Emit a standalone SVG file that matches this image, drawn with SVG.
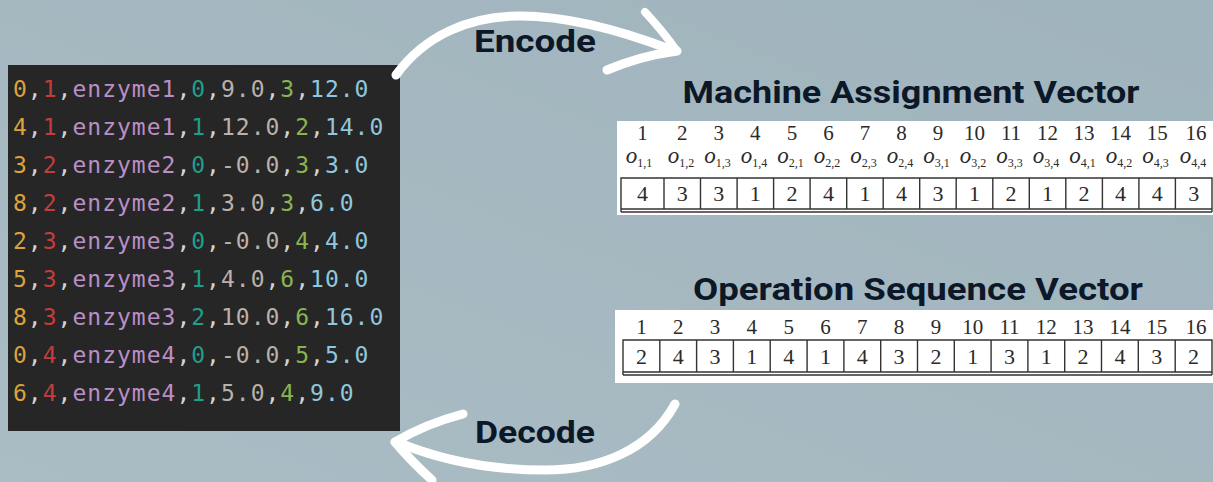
<svg xmlns="http://www.w3.org/2000/svg" width="1213" height="482" viewBox="0 0 1213 482">
  <defs>
    <linearGradient id="bg" x1="1" y1="0" x2="0" y2="1">
      <stop offset="0" stop-color="#a0b4bd"/>
      <stop offset="1" stop-color="#aabcc4"/>
    </linearGradient>
    <style>
      .code { font-family: "DejaVu Sans Mono", "Liberation Mono", monospace; font-size: 23px; letter-spacing: 1px; }
      .a { fill: #dca23c; }
      .b { fill: #c43c3c; }
      .c { fill: #b98fc6; }
      .p { fill: #d2d2d2; }
      .d { fill: #1f9e8a; }
      .e { fill: #bab1aa; }
      .f { fill: #8bb352; }
      .g { fill: #8fc7de; }
      .title { font-family: Roboto, "Liberation Sans", sans-serif; font-weight: 700; font-size: 32px; fill: #0c1828; }
      .hdr { font-family: "Liberation Serif", serif; font-size: 21px; fill: #2a2a2a; text-anchor: middle; }
      .val { font-family: "Liberation Serif", serif; font-size: 22px; fill: #2a2a2a; text-anchor: middle; }
      .op { font-family: "Liberation Serif", serif; font-size: 23px; fill: #2a2a2a; text-anchor: middle; }
      .op .i { font-style: italic; }
      .op .s { font-size: 12px; }
      .grid { fill: none; stroke: #333333; stroke-width: 1.4; }
      .arrow { fill: none; stroke: #ffffff; stroke-linecap: round; stroke-linejoin: round; }
    </style>
  </defs>

  <rect width="1213" height="482" fill="url(#bg)"/>

  <!-- source data listing -->
  <g id="code-panel">
    <rect x="8" y="65" width="392" height="366" fill="#262626"/>
    <text class="code" x="13" y="97"><tspan class="a">0</tspan><tspan class="p">,</tspan><tspan class="b">1</tspan><tspan class="p">,</tspan><tspan class="c">enzyme1</tspan><tspan class="p">,</tspan><tspan class="d">0</tspan><tspan class="p">,</tspan><tspan class="e">9.0</tspan><tspan class="p">,</tspan><tspan class="f">3</tspan><tspan class="p">,</tspan><tspan class="g">12.0</tspan></text>
    <text class="code" x="13" y="135"><tspan class="a">4</tspan><tspan class="p">,</tspan><tspan class="b">1</tspan><tspan class="p">,</tspan><tspan class="c">enzyme1</tspan><tspan class="p">,</tspan><tspan class="d">1</tspan><tspan class="p">,</tspan><tspan class="e">12.0</tspan><tspan class="p">,</tspan><tspan class="f">2</tspan><tspan class="p">,</tspan><tspan class="g">14.0</tspan></text>
    <text class="code" x="13" y="173"><tspan class="a">3</tspan><tspan class="p">,</tspan><tspan class="b">2</tspan><tspan class="p">,</tspan><tspan class="c">enzyme2</tspan><tspan class="p">,</tspan><tspan class="d">0</tspan><tspan class="p">,</tspan><tspan class="e">-0.0</tspan><tspan class="p">,</tspan><tspan class="f">3</tspan><tspan class="p">,</tspan><tspan class="g">3.0</tspan></text>
    <text class="code" x="13" y="211"><tspan class="a">8</tspan><tspan class="p">,</tspan><tspan class="b">2</tspan><tspan class="p">,</tspan><tspan class="c">enzyme2</tspan><tspan class="p">,</tspan><tspan class="d">1</tspan><tspan class="p">,</tspan><tspan class="e">3.0</tspan><tspan class="p">,</tspan><tspan class="f">3</tspan><tspan class="p">,</tspan><tspan class="g">6.0</tspan></text>
    <text class="code" x="13" y="249"><tspan class="a">2</tspan><tspan class="p">,</tspan><tspan class="b">3</tspan><tspan class="p">,</tspan><tspan class="c">enzyme3</tspan><tspan class="p">,</tspan><tspan class="d">0</tspan><tspan class="p">,</tspan><tspan class="e">-0.0</tspan><tspan class="p">,</tspan><tspan class="f">4</tspan><tspan class="p">,</tspan><tspan class="g">4.0</tspan></text>
    <text class="code" x="13" y="287"><tspan class="a">5</tspan><tspan class="p">,</tspan><tspan class="b">3</tspan><tspan class="p">,</tspan><tspan class="c">enzyme3</tspan><tspan class="p">,</tspan><tspan class="d">1</tspan><tspan class="p">,</tspan><tspan class="e">4.0</tspan><tspan class="p">,</tspan><tspan class="f">6</tspan><tspan class="p">,</tspan><tspan class="g">10.0</tspan></text>
    <text class="code" x="13" y="325"><tspan class="a">8</tspan><tspan class="p">,</tspan><tspan class="b">3</tspan><tspan class="p">,</tspan><tspan class="c">enzyme3</tspan><tspan class="p">,</tspan><tspan class="d">2</tspan><tspan class="p">,</tspan><tspan class="e">10.0</tspan><tspan class="p">,</tspan><tspan class="f">6</tspan><tspan class="p">,</tspan><tspan class="g">16.0</tspan></text>
    <text class="code" x="13" y="363"><tspan class="a">0</tspan><tspan class="p">,</tspan><tspan class="b">4</tspan><tspan class="p">,</tspan><tspan class="c">enzyme4</tspan><tspan class="p">,</tspan><tspan class="d">0</tspan><tspan class="p">,</tspan><tspan class="e">-0.0</tspan><tspan class="p">,</tspan><tspan class="f">5</tspan><tspan class="p">,</tspan><tspan class="g">5.0</tspan></text>
    <text class="code" x="13" y="401"><tspan class="a">6</tspan><tspan class="p">,</tspan><tspan class="b">4</tspan><tspan class="p">,</tspan><tspan class="c">enzyme4</tspan><tspan class="p">,</tspan><tspan class="d">1</tspan><tspan class="p">,</tspan><tspan class="e">5.0</tspan><tspan class="p">,</tspan><tspan class="f">4</tspan><tspan class="p">,</tspan><tspan class="g">9.0</tspan></text>
  </g>

  <!-- machine assignment vector -->
  <g id="machine-assignment">
    <text class="title" x="911" y="103" text-anchor="middle" textLength="457" lengthAdjust="spacingAndGlyphs">Machine Assignment Vector</text>
    <rect x="617" y="121" width="596" height="94" fill="#ffffff"/>
    <g class="hdr">
      <text x="642.5" y="140">1</text><text x="682.3" y="140">2</text><text x="718.8" y="140">3</text><text x="755.3" y="140">4</text>
      <text x="791.9" y="140">5</text><text x="828.4" y="140">6</text><text x="864.9" y="140">7</text><text x="901.4" y="140">8</text>
      <text x="938" y="140">9</text><text x="974.5" y="140">10</text><text x="1011" y="140">11</text><text x="1047.6" y="140">12</text>
      <text x="1084.1" y="140">13</text><text x="1120.6" y="140">14</text><text x="1157.2" y="140">15</text><text x="1196" y="140">16</text>
    </g>
    <g class="op">
      <text x="639" y="163"><tspan class="i">o</tspan><tspan class="s" dy="4">1,1</tspan></text>
      <text x="681" y="163"><tspan class="i">o</tspan><tspan class="s" dy="4">1,2</tspan></text>
      <text x="717.5" y="163"><tspan class="i">o</tspan><tspan class="s" dy="4">1,3</tspan></text>
      <text x="754" y="163"><tspan class="i">o</tspan><tspan class="s" dy="4">1,4</tspan></text>
      <text x="790.5" y="163"><tspan class="i">o</tspan><tspan class="s" dy="4">2,1</tspan></text>
      <text x="827" y="163"><tspan class="i">o</tspan><tspan class="s" dy="4">2,2</tspan></text>
      <text x="863.5" y="163"><tspan class="i">o</tspan><tspan class="s" dy="4">2,3</tspan></text>
      <text x="900" y="163"><tspan class="i">o</tspan><tspan class="s" dy="4">2,4</tspan></text>
      <text x="936.5" y="163"><tspan class="i">o</tspan><tspan class="s" dy="4">3,1</tspan></text>
      <text x="973" y="163"><tspan class="i">o</tspan><tspan class="s" dy="4">3,2</tspan></text>
      <text x="1009.5" y="163"><tspan class="i">o</tspan><tspan class="s" dy="4">3,3</tspan></text>
      <text x="1046" y="163"><tspan class="i">o</tspan><tspan class="s" dy="4">3,4</tspan></text>
      <text x="1082.5" y="163"><tspan class="i">o</tspan><tspan class="s" dy="4">4,1</tspan></text>
      <text x="1119" y="163"><tspan class="i">o</tspan><tspan class="s" dy="4">4,2</tspan></text>
      <text x="1155.5" y="163"><tspan class="i">o</tspan><tspan class="s" dy="4">4,3</tspan></text>
      <text x="1193" y="163"><tspan class="i">o</tspan><tspan class="s" dy="4">4,4</tspan></text>
    </g>
    <path class="grid" d="M621 178H1212V209H621Z M621 212H1212 M621 178V212 M1212 178V212 M664 178V209 M700.5 178V209 M737.1 178V209 M773.6 178V209 M810.1 178V209 M846.7 178V209 M883.2 178V209 M919.7 178V209 M956.2 178V209 M992.8 178V209 M1029.3 178V209 M1065.8 178V209 M1102.4 178V209 M1138.9 178V209 M1175.4 178V209"/>
    <g class="val">
      <text x="642.5" y="201">4</text><text x="682.3" y="201">3</text><text x="718.8" y="201">3</text><text x="755.3" y="201">1</text>
      <text x="791.9" y="201">2</text><text x="828.4" y="201">4</text><text x="864.9" y="201">1</text><text x="901.4" y="201">4</text>
      <text x="938" y="201">3</text><text x="974.5" y="201">1</text><text x="1011" y="201">2</text><text x="1047.6" y="201">1</text>
      <text x="1084.1" y="201">2</text><text x="1120.6" y="201">4</text><text x="1157.2" y="201">4</text><text x="1193.7" y="201">3</text>
    </g>
  </g>

  <!-- operation sequence vector -->
  <g id="operation-sequence">
    <text class="title" x="918" y="300" text-anchor="middle" textLength="450" lengthAdjust="spacingAndGlyphs">Operation Sequence Vector</text>
    <rect x="615" y="310" width="598" height="73" fill="#ffffff"/>
    <g class="hdr">
      <text x="641.4" y="334">1</text><text x="678.2" y="334">2</text><text x="715" y="334">3</text><text x="751.8" y="334">4</text>
      <text x="788.7" y="334">5</text><text x="825.5" y="334">6</text><text x="862.3" y="334">7</text><text x="899.1" y="334">8</text>
      <text x="935.9" y="334">9</text><text x="972.7" y="334">10</text><text x="1009.5" y="334">11</text><text x="1046.3" y="334">12</text>
      <text x="1083.1" y="334">13</text><text x="1119.9" y="334">14</text><text x="1156.8" y="334">15</text><text x="1196" y="334">16</text>
    </g>
    <path class="grid" d="M623 340H1212V372H623Z M623 375H1212 M623 340V375 M1212 340V375 M659.8 340V372 M696.6 340V372 M733.4 340V372 M770.2 340V372 M807.1 340V372 M843.9 340V372 M880.7 340V372 M917.5 340V372 M954.3 340V372 M991.1 340V372 M1027.9 340V372 M1064.7 340V372 M1101.5 340V372 M1138.3 340V372 M1175.2 340V372"/>
    <g class="val">
      <text x="641.4" y="364">2</text><text x="678.2" y="364">4</text><text x="715" y="364">3</text><text x="751.8" y="364">1</text>
      <text x="788.7" y="364">4</text><text x="825.5" y="364">1</text><text x="862.3" y="364">4</text><text x="899.1" y="364">3</text>
      <text x="935.9" y="364">2</text><text x="972.7" y="364">1</text><text x="1009.5" y="364">3</text><text x="1046.3" y="364">1</text>
      <text x="1083.1" y="364">2</text><text x="1119.9" y="364">4</text><text x="1156.8" y="364">3</text><text x="1193.6" y="364">2</text>
    </g>
  </g>

  <!-- curved encode / decode arrows -->
  <g id="connectors">
    <g id="encode-arrow">
      <path class="arrow" stroke-width="9" d="M396 75 C425 35 470 16 520 16 C570 16 625 32 672 50"/>
      <path class="arrow" stroke-width="8" d="M645 12 Q661 29 677 51"/>
      <path class="arrow" stroke-width="9" d="M607 70 Q640 56 677 51"/>
    </g>
    <g id="decode-arrow">
      <path class="arrow" stroke-width="9" d="M675 404 C650 450 600 470 545 470 C490 470 440 460 397 442"/>
      <path class="arrow" stroke-width="9" d="M463 414 Q425 424 395 442"/>
      <path class="arrow" stroke-width="9" d="M432 480 Q412 462 395 442"/>
    </g>
  </g>

  <g id="encode-label">
    <text class="title" x="474" y="52" textLength="122" lengthAdjust="spacingAndGlyphs">Encode</text>
  </g>
  <g id="decode-label">
    <text class="title" x="475" y="443" textLength="120" lengthAdjust="spacingAndGlyphs">Decode</text>
  </g>
</svg>
